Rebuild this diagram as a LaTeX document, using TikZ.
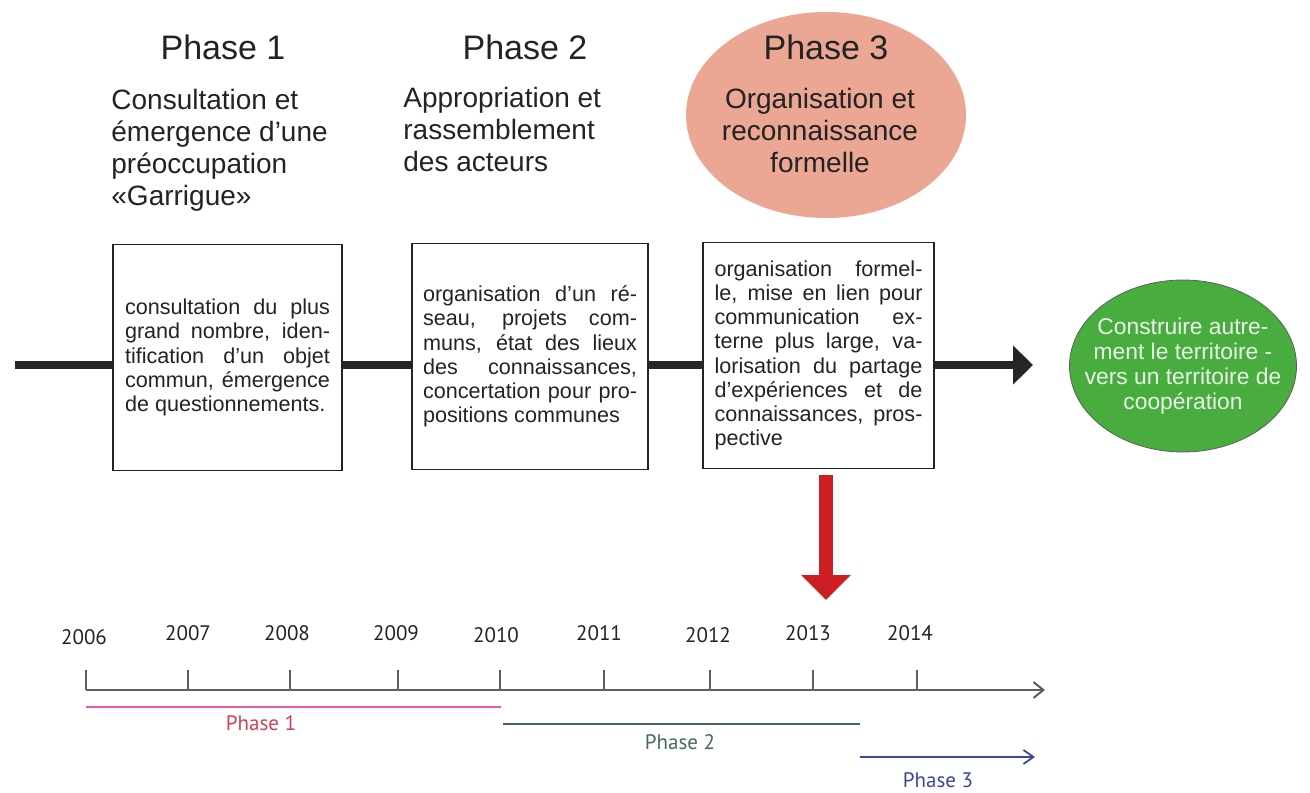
\documentclass[tikz,border=0pt]{standalone}
\usepackage{fontspec}
\setmainfont{Liberation Sans}
\newfontfamily\axefont{PT Sans}
\usetikzlibrary{arrows.meta,shapes.geometric}
\definecolor{saumon}{RGB}{236,166,148}
\definecolor{vert}{RGB}{72,172,62}
\definecolor{rouge}{RGB}{205,30,35}
\definecolor{rose}{RGB}{228,90,165}
\definecolor{roseT}{RGB}{205,65,85}
\definecolor{sarcelle}{RGB}{70,105,95}
\definecolor{bleu}{RGB}{60,70,155}
\definecolor{gris}{RGB}{95,95,95}
\definecolor{texte}{RGB}{35,35,35}
\begin{document}
\begin{tikzpicture}[x=0.5pt, y=-0.5pt,
        titre/.style={font=\fontsize{17}{20}\selectfont, text=texte},
        sous/.style={font=\fontsize{14}{16}\selectfont, text=texte, inner sep=0pt},
        boite/.style={draw=texte, line width=0.7pt, fill=white, font=\fontsize{10.8}{12.1}\selectfont,
            text=texte, align=justify, minimum height=113pt},
        ovale/.style={ellipse, inner sep=0pt},
        annee/.style={font=\axefont\fontsize{10.5}{12}\selectfont, text=texte},
        etiq/.style={font=\axefont\fontsize{10.5}{12}\selectfont}]
        \useasboundingbox (0,0) rectangle (1310,792);
        % titres des phases
        \node [ovale, fill=saumon, minimum width=140pt, minimum height=103pt] (e3) at (826,115) {};
        \node [titre] (h1) at (223,47) {Phase 1};
        \node [titre] (h2) at (525,47) {Phase 2};
        \node [titre] (h3) at (826,47) {Phase 3};
        \node [sous, anchor=north west, align=left] (s1) at (111,89) {Consultation et\\émergence d’une\\préoccupation\\«Garrigue»};
        \node [sous, anchor=north west, align=left] (s2) at (403,87) {Appropriation et\\rassemblement\\des acteurs};
        \node [sous, align=center] (s3) at (820,130) {Organisation et\\reconnaissance\\formelle};
        % les trois boites
        \node [boite, text width=102.5pt, inner xsep=6pt] (b1) at (227.5,357.5) {consultation du plus\linebreak grand nombre, iden-\linebreak tification d’un objet\linebreak commun, émergence\linebreak de questionnements.};
        \node [boite, text width=107pt, inner xsep=5.5pt] (b2) at (530,356.5) {organisation d’un ré-\linebreak seau, projets com-\linebreak muns, état des lieux\linebreak des connaissances,\linebreak concertation pour pro-\linebreak positions communes};
        \node [boite, text width=104pt, inner xsep=5.75pt] (b3) at (818.5,355.5) {organisation formel-\linebreak le, mise en lien pour\linebreak communication ex-\linebreak terne plus large, va-\linebreak lorisation du partage\linebreak d’expériences et de\linebreak connaissances, pros-\linebreak pective};
        % but
        \node [ovale, draw=gris, fill=vert, minimum width=113.5pt, minimum height=86pt] (e4) at (1183,366) {};
        \node [text=white!88!vert, align=center, font=\fontsize{11.4}{12.5}\selectfont] (s4) at (e4) {Construire autre-\\ment le territoire -\\vers un territoire de\\coopération};
        % axe principal
        \coordinate (debut) at (15,365);
        \coordinate (fin) at (1033,365);
        \draw [line width=4pt, black!85] (debut) -- (b1.west |- debut);
        \draw [line width=4pt, black!85] (b1.east |- debut) -- (b2.west |- debut);
        \draw [line width=4pt, black!85] (b2.east |- debut) -- (b3.west |- debut);
        \draw [line width=4pt, black!85, -{Triangle[length=10pt, width=19pt]}] (b3.east |- debut) -- (fin);
        % fleche rouge
        \coordinate (fb) at (826,600);
        \draw [line width=7pt, rouge, -{Triangle[length=12.5pt, width=24pt]}] ([yshift=-3pt]b3.south -| fb) -- (fb);
        % frise chronologique
        \coordinate (a0) at (86,690);
        \coordinate (a1) at (1045,690);
        \draw [gris, line width=1pt, -{Straight Barb[length=5pt, width=8pt]}] (a0) -- (a1);
        \foreach \tx/\lx/\ly/\an in {86/84/637/2006, 188/188/633/2007, 290/287/633/2008, 398/396/633/2009,
            500/496/635/2010, 604/599/633/2011, 710/708/635/2012, 813/808/633/2013, 917/910/633/2014} {
            \draw [gris, line width=0.9pt] (\tx,670) -- (\tx,690);
            \node [annee] (an\an) at (\lx,\ly) {\an};
        }
        \coordinate (p1a) at (86,707);
        \coordinate (p1b) at (501,707);
        \draw [rose, line width=1.3pt] (p1a) -- (p1b);
        \node [etiq, text=roseT] (l1) at (261,723) {Phase 1};
        \coordinate (p2a) at (503,724);
        \coordinate (p2b) at (860,724);
        \draw [sarcelle, line width=0.9pt] (p2a) -- (p2b);
        \node [etiq, text=sarcelle] (l2) at (680,742) {Phase 2};
        \coordinate (p3a) at (860,757);
        \coordinate (p3b) at (1035,757);
        \draw [bleu, line width=0.9pt, -{Straight Barb[length=5pt, width=7pt]}] (p3a) -- (p3b);
        \node [etiq, text=bleu, inner sep=1pt] (l3) at (938,780) {Phase 3};
    \end{tikzpicture}
\end{document}
